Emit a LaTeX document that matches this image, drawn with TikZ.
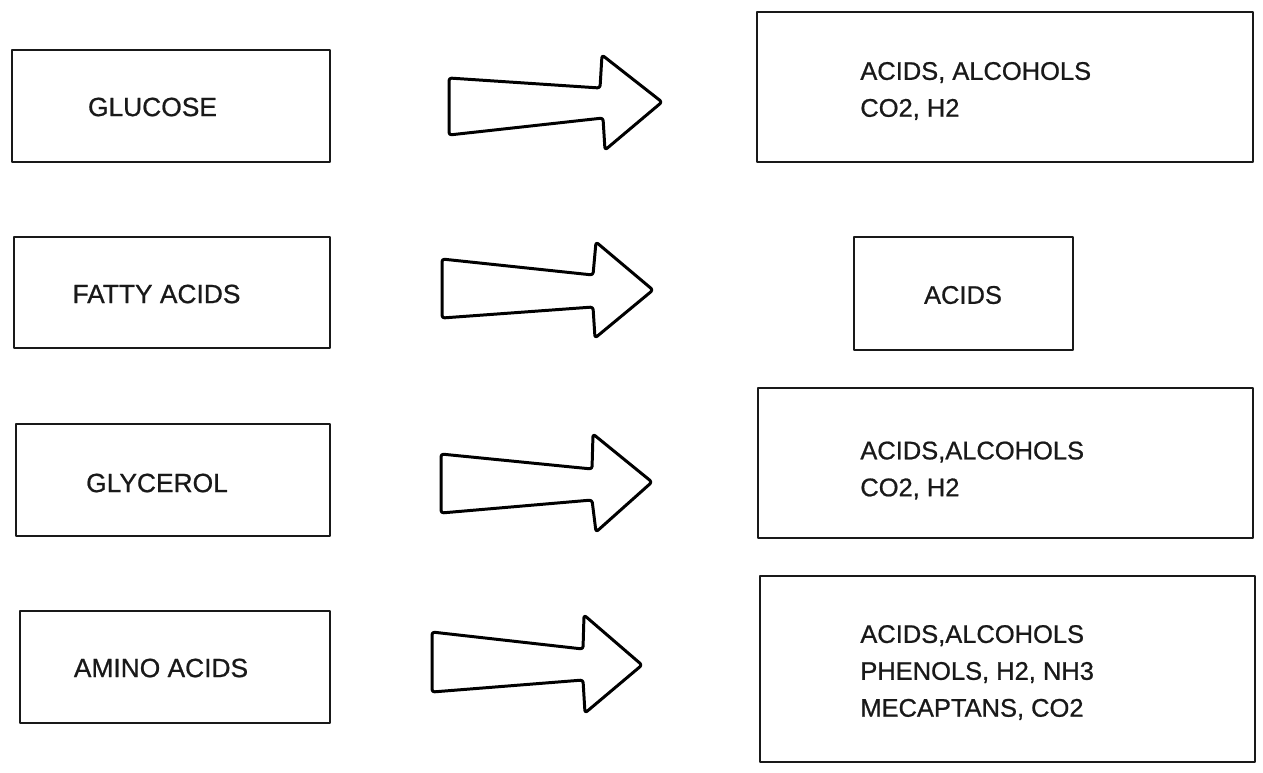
\documentclass[tikz,border=0pt]{standalone}
\usepackage{fontspec}
\setmainfont{Liberation Sans}
\newfontfamily\scanfont{Liberation Sans}[FakeBold=0.8]
\usetikzlibrary{positioning}

\begin{document}
\begin{tikzpicture}[x=0.02cm, y=-0.02cm, line join=round,
  box/.style={draw=black!90, line width=1.1pt, inner sep=0pt},
  lbl/.style={font=\scanfont\fontsize{15}{18}\selectfont, text=black!90, inner sep=0pt},
  prod/.style={font=\scanfont\fontsize{14.5}{21}\selectfont, text=black!90, align=left, inner sep=0pt},
  fatarrow/.style={draw=black, line width=1.7pt, rounded corners=1.5pt}]

\useasboundingbox (0,0) rectangle (1263,772);

% --- substrates (left) ---
\node[box, minimum width=6.36cm, minimum height=2.24cm] (glucosebox) at (171, 106) {};
\node[box, minimum width=6.32cm, minimum height=2.22cm] (fattybox) at (172, 292.5) {};
\node[box, minimum width=6.28cm, minimum height=2.24cm] (glycerolbox) at (173, 480) {};
\node[box, minimum width=6.2cm, minimum height=2.24cm] (aminobox) at (175, 667) {};

\node[lbl] (glucose) at (152.5, 107) {GLUCOSE};
\node[lbl] (fatty) at (156.5, 294) {FATTY ACIDS};
\node[lbl] (glycerol) at (157, 483) {GLYCEROL};
\node[lbl] (amino) at (161, 668) {AMINO ACIDS};

% --- fermentation arrows ---
\draw[fatarrow] (449,78) -- (600,88) -- (602,55) -- (662,102) -- (605,150) -- (603,118) -- (449,135) -- cycle;
\draw[fatarrow] (442,259) -- (593,275) -- (596,242) -- (653,290) -- (595,338) -- (593,307) -- (442,318) -- cycle;
\draw[fatarrow] (441,454) -- (592,469) -- (593,434) -- (652,482) -- (596,532) -- (592,500) -- (441,513) -- cycle;
\draw[fatarrow] (432,632) -- (583,649) -- (584,615) -- (642,665) -- (585,713) -- (583,680) -- (432,692) -- cycle;

% --- products (right) ---
\node[box, minimum width=9.92cm, minimum height=3.0cm] (glucoseout) at (1005, 87) {};
\node[box, minimum width=4.38cm, minimum height=2.26cm] (fattyout) at (963.5, 293.5) {};
\node[box, minimum width=9.9cm, minimum height=3.0cm] (glycerolout) at (1005.5, 463) {};
\node[box, minimum width=9.9cm, minimum height=3.72cm] (aminoout) at (1007.5, 669) {};

\node[prod, anchor=west] (prod1) at (860, 91) {ACIDS, ALCOHOLS\\CO2, H2};
\node[prod] (prod2) at (963, 295) {ACIDS};
\node[prod, anchor=west] (prod3) at (860, 470.5) {ACIDS,ALCOHOLS\\CO2, H2};
\node[prod, anchor=west] (prod4) at (860, 672.5) {ACIDS,ALCOHOLS\\PHENOLS, H2, NH3\\MECAPTANS, CO2};

\end{tikzpicture}
\end{document}
